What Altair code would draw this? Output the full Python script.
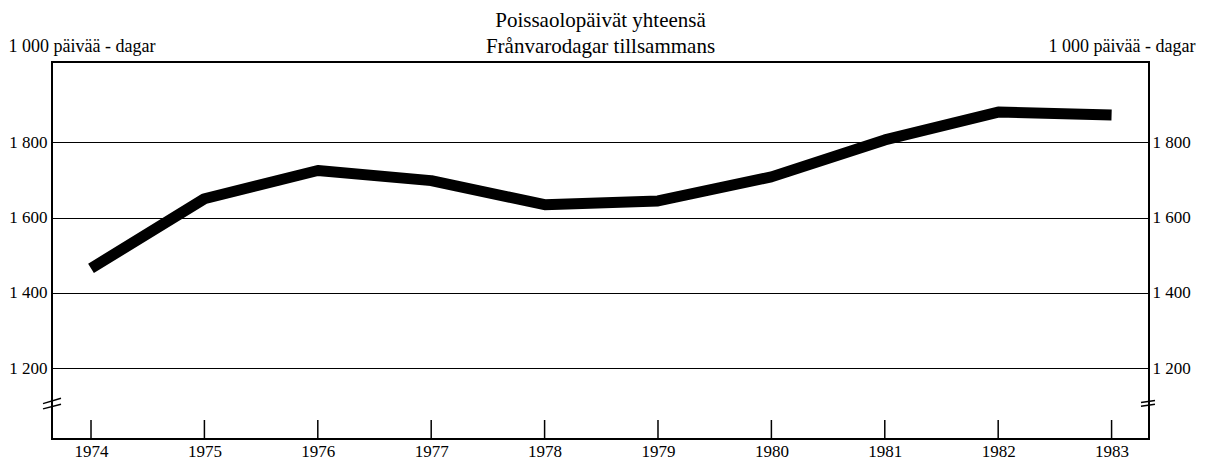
import altair as alt
import pandas as pd

years = [1974, 1975, 1976, 1977, 1978, 1979, 1980, 1981, 1982, 1983]
values = [1465, 1650, 1725, 1698, 1634, 1644, 1708, 1806, 1880, 1872]
y_ticks = [1200, 1400, 1600, 1800]
title_lines = ["Poissaolopäivät yhteensä", "Frånvarodagar tillsammans"]
unit_label = "1 000 päivää - dagar"

# axis-break decoration (two short slanted strokes on each vertical axis)
break_left_lo = [1092, 1106]
break_left_hi = [1104, 1120]
break_right_lo = [1099, 1109]
break_right_hi = [1104, 1114]

df = pd.DataFrame({"year": years, "value": values})
brk = pd.DataFrame({"ll": break_left_lo, "lh": break_left_hi,
                    "rl": break_right_lo, "rh": break_right_hi})
t1 = pd.DataFrame({"t": [title_lines[0]]})
t2 = pd.DataFrame({"t": [title_lines[1]]})

W, H = 1097, 377
FONT = "Liberation Serif"

xs = alt.Scale(domain=[1973.656, 1983.33], nice=False, zero=False)
ys = alt.Scale(domain=[1012, 2013], nice=False, zero=False)

label_expr = "replace(format(datum.value, ','), ',', ' ')"

line = alt.Chart(df).mark_line(color="black", strokeWidth=11, strokeCap="butt", strokeJoin="round").encode(
    x=alt.X("year:Q", scale=xs,
            axis=alt.Axis(values=years, format="d", grid=False, ticks=False, tickSize=0, domain=False,
                          labelFontSize=17, labelFont=FONT, labelColor="black",
                          labelPadding=17, labelBaseline="alphabetic", title=None)),
    y=alt.Y("value:Q", scale=ys,
            axis=alt.Axis(orient="left", values=y_ticks, grid=True, gridColor="black", gridWidth=1.2,
                          gridOpacity=1, ticks=False, tickSize=0, domain=False, labelExpr=label_expr,
                          labelFontSize=17, labelFont=FONT, labelColor="black", labelPadding=5,
                          title=unit_label, titleAngle=0, titleX=-44, titleY=-11, titleAlign="left",
                          titleBaseline="alphabetic", titleFont=FONT, titleFontSize=18,
                          titleFontWeight="normal", titleColor="black")),
)

right = alt.Chart(df).mark_line(opacity=0).encode(
    x=alt.X("year:Q", scale=xs),
    y=alt.Y("value:Q", scale=ys,
            axis=alt.Axis(orient="right", values=y_ticks, grid=False, ticks=False, tickSize=0,
                          domain=False, labelExpr=label_expr, labelFontSize=17, labelFont=FONT,
                          labelColor="black", labelPadding=3, title=unit_label, titleAngle=0,
                          titleX=46, titleY=-11, titleAlign="right", titleBaseline="alphabetic",
                          titleFont=FONT, titleFontSize=18, titleFontWeight="normal",
                          titleColor="black")),
)

xticks = alt.Chart(df).mark_rule(color="black", strokeWidth=1.5).encode(
    x=alt.X("year:Q", scale=xs),
    y=alt.value(H),
    y2=alt.value(H - 19),
)

brk_left = alt.Chart(brk).mark_rule(color="black", strokeWidth=1.5).encode(
    x=alt.value(-9), x2=alt.value(9),
    y=alt.Y("ll:Q", scale=ys, axis=None), y2="lh:Q",
)
brk_right = alt.Chart(brk).mark_rule(color="black", strokeWidth=1.5).encode(
    x=alt.value(W - 8), x2=alt.value(W + 6),
    y=alt.Y("rl:Q", scale=ys, axis=None), y2="rh:Q",
)

title_a = alt.Chart(t1).mark_text(font=FONT, fontSize=21, color="black", align="center",
                                  baseline="alphabetic").encode(
    text="t:N", x=alt.value(W / 2), y=alt.value(-35))
title_b = alt.Chart(t2).mark_text(font=FONT, fontSize=21, color="black", align="center",
                                  baseline="alphabetic").encode(
    text="t:N", x=alt.value(W / 2), y=alt.value(-9))

chart = alt.layer(line, right, xticks, brk_left, brk_right, title_a, title_b).resolve_axis(
    y="independent"
).properties(
    width=W, height=H,
    autosize=alt.AutoSizeParams(type="none"),
    padding={"left": 44, "top": 54, "right": 48, "bottom": 21},
).configure(background="white").configure_view(stroke="black", strokeWidth=2)

chart.save("out.html", embed_options={"renderer": "svg", "actions": False})
